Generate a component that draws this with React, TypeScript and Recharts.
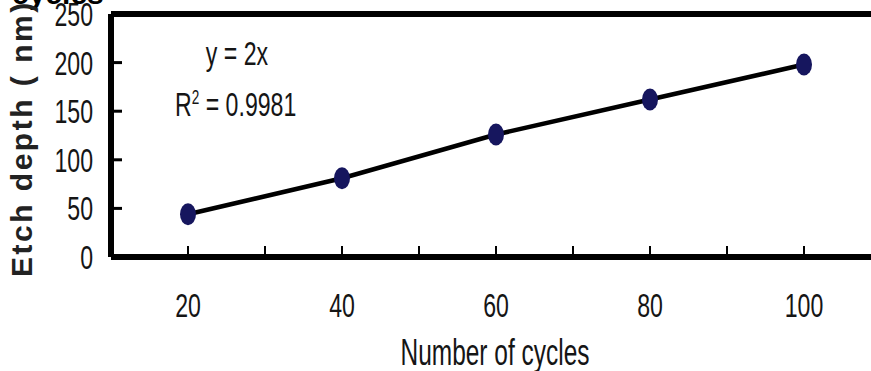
import React from "react";
import { LineChart, Line, XAxis, YAxis, ReferenceLine } from "recharts";

const cycles = [20, 40, 60, 80, 100];
const etchDepth = [44, 81, 126, 162, 198];
const xTicks = [10, 20, 30, 40, 50, 60, 70, 80, 90, 100, 110];
const xLabels = [20, 40, 60, 80, 100];
const yTicks = [0, 50, 100, 150, 200, 250];

const data = cycles.map((c, i) => ({ cycles: c, depth: etchDepth[i] }));

const sans = "'Liberation Sans', Arial, sans-serif";
const SX = 0.68; // squeeze to mimic a condensed face

// layout
const W = 960;
const H = 371;
const LEFT = 111;
const TOP = 14;
const BOTTOM = 257;

const Narrow = ({ x, y, anchor = "start", size = 34, children }: any) => (
  <text
    transform={`translate(${x},${y}) scale(${SX},1)`}
    textAnchor={anchor}
    fontFamily={sans}
    fontSize={size}
    fill="#151515"
  >
    {children}
  </text>
);

const XTick = (props: any) => {
  const { x, payload } = props;
  const v = payload.value;
  return (
    <g>
      {v > 10 && v < 110 && (
        <line x1={x} x2={x} y1={BOTTOM} y2={BOTTOM - 11} stroke="#000" strokeWidth={2} />
      )}
      {xLabels.includes(v) && (
        <Narrow x={x} y={317} anchor="middle">
          {v}
        </Narrow>
      )}
    </g>
  );
};

const YTick = (props: any) => {
  const { y, payload } = props;
  const v = payload.value;
  return (
    <g>
      {v > 0 && v < 250 && (
        <line x1={LEFT} x2={LEFT + 11} y1={y} y2={y} stroke="#000" strokeWidth={3} />
      )}
      <Narrow x={93} y={y + 12} anchor="end">
        {v}
      </Narrow>
    </g>
  );
};

const Dot = (props: any) => {
  const { cx, cy } = props;
  if (cx == null || cy == null) return null;
  return <ellipse cx={cx} cy={cy} rx={8} ry={11} fill="#16165e" />;
};

export default function App() {
  return (
    <div style={{ position: "absolute", left: 0, top: 0, width: 871, height: 371, overflow: "hidden", background: "#fff" }}>
      <LineChart
        width={W}
        height={H}
        data={data}
        margin={{ top: TOP, right: W - 881, bottom: 0, left: 0 }}
      >
        <XAxis
          dataKey="cycles"
          type="number"
          domain={[10, 110]}
          ticks={xTicks}
          interval={0}
          height={H - BOTTOM}
          axisLine={{ stroke: "#000", strokeWidth: 6 }}
          tickLine={false}
          tick={<XTick />}
        />
        <YAxis
          type="number"
          domain={[0, 250]}
          ticks={yTicks}
          interval={0}
          width={LEFT}
          axisLine={{ stroke: "#000", strokeWidth: 6 }}
          tickLine={false}
          tick={<YTick />}
        />
        <ReferenceLine y={250} stroke="#000" strokeWidth={6} ifOverflow="visible" />
        <Line
          dataKey="depth"
          stroke="#000"
          strokeWidth={4.5}
          dot={<Dot />}
          isAnimationActive={false}
        />
      </LineChart>
      <svg width={871} height={371} style={{ position: "absolute", left: 0, top: 0, pointerEvents: "none" }}>
        <text x={12} y={4} fontFamily={sans} fontWeight="bold" fontSize={30} fill="#000">
          cycles
        </text>
        <text
          transform="translate(32,277) rotate(-90)"
          fontFamily={sans}
          fontWeight="bold"
          fontSize={30}
          letterSpacing={2.5}
          fill="#222"
        >
          Etch depth ( nm)
        </text>
        <Narrow x={237} y={65} anchor="middle">
          y = 2x
        </Narrow>
        <Narrow x={175} y={116}>
          R<tspan dy={-12} fontSize={20}>2</tspan>
          <tspan dy={12}> = 0.9981</tspan>
        </Narrow>
        <Narrow x={495} y={365} anchor="middle" size={36}>
          Number of cycles
        </Narrow>
      </svg>
    </div>
  );
}
